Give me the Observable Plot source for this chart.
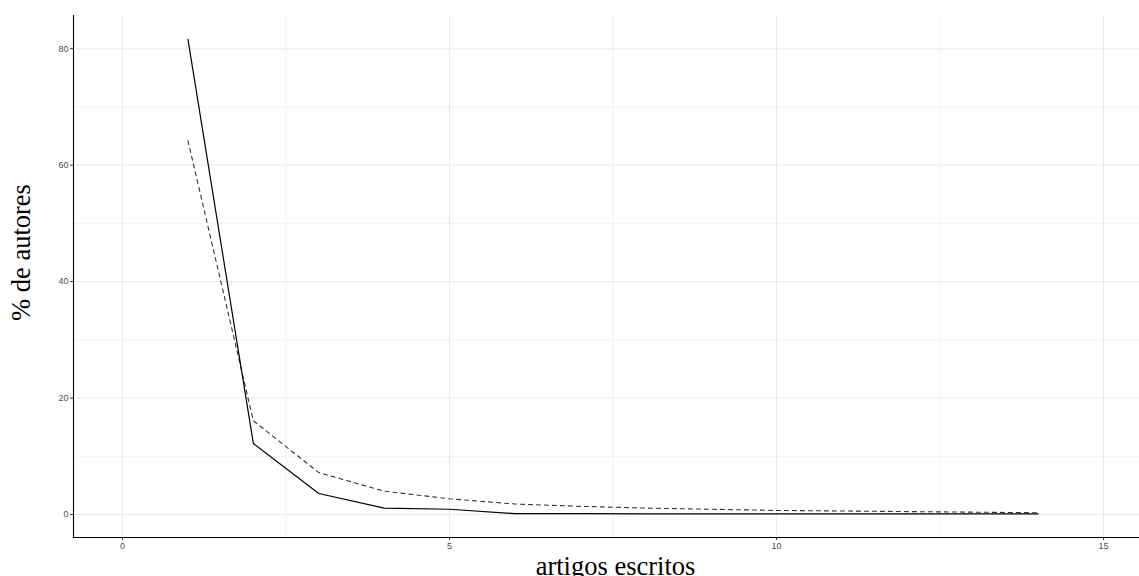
<!DOCTYPE html>
<html>
<head>
<meta charset="utf-8">
<script src="https://cdn.jsdelivr.net/npm/d3@7"></script>
<script src="https://cdn.jsdelivr.net/npm/@observablehq/plot@0.6"></script>
<style>
  html, body { margin: 0; padding: 0; background: #fff; }
  #chart svg { display: block; }
</style>
</head>
<body>
<div id="chart"></div>
<script>
const artigos = [1, 2, 3, 4, 5, 6, 7, 8, 9, 10, 11, 12, 13, 14];
const solidSeries = [81.6, 12.2, 3.6, 1.1, 0.9, 0.15, 0.15, 0.1, 0.1, 0.1, 0.1, 0.1, 0.1, 0.1];
const dashedSeries = [64.2, 16.1, 7.2, 4.0, 2.7, 1.8, 1.4, 1.1, 0.9, 0.7, 0.6, 0.5, 0.4, 0.3];
const xTicks = [0, 5, 10, 15];
const yTicks = [0, 20, 40, 60, 80];
const xMinor = [2.5, 7.5, 12.5];
const yMinor = [10, 30, 50, 70];

const solidData = artigos.map((x, i) => ({x, y: solidSeries[i]}));
const dashedData = artigos.map((x, i) => ({x, y: dashedSeries[i]}));

const chart = Plot.plot({
  width: 1139,
  height: 576,
  marginLeft: 73,
  marginRight: 0,
  marginTop: 15,
  marginBottom: 39,
  style: {background: "#fff"},
  x: {domain: [-0.75, 15.55]},
  y: {domain: [-3.95, 85.7]},
  marks: [
    Plot.gridX(xMinor, {stroke: "#ebebeb", strokeOpacity: 1, strokeWidth: 0.6}),
    Plot.gridY(yMinor, {stroke: "#ebebeb", strokeOpacity: 1, strokeWidth: 0.6}),
    Plot.gridX(xTicks, {stroke: "#ebebeb", strokeOpacity: 1, strokeWidth: 1.1}),
    Plot.gridY(yTicks, {stroke: "#ebebeb", strokeOpacity: 1, strokeWidth: 1.1}),
    Plot.axisX(xTicks, {tickSize: 3, tickPadding: 2, stroke: "#333", fill: "#4d4d4d", fontSize: 9, fontFamily: "Liberation Sans, Arial, sans-serif", label: null}),
    Plot.axisY(yTicks, {tickSize: 3, tickPadding: 2, stroke: "#333", fill: "#4d4d4d", fontSize: 9, fontFamily: "Liberation Sans, Arial, sans-serif", label: null}),
    Plot.frame({anchor: "left", stroke: "#000", strokeWidth: 1.1}),
    Plot.frame({anchor: "bottom", stroke: "#000", strokeWidth: 1.1}),
    Plot.line(dashedData, {x: "x", y: "y", stroke: "#333", strokeWidth: 1.1, strokeDasharray: "4,4"}),
    Plot.line(solidData, {x: "x", y: "y", stroke: "#000", strokeWidth: 1.2}),
    Plot.text(["artigos escritos"], {frameAnchor: "bottom", dy: 19, dx: 9, textAnchor: "middle", lineAnchor: "top", fontSize: 26.5, fontFamily: "Liberation Serif, Times New Roman, serif", fill: "#000"}),
    Plot.text(["% de autores"], {frameAnchor: "left", dx: -52, dy: -24, textAnchor: "middle", rotate: -90, fontSize: 26.5, fontFamily: "Liberation Serif, Times New Roman, serif", fill: "#000"})
  ]
});
document.getElementById("chart").appendChild(chart);
</script>
</body>
</html>
